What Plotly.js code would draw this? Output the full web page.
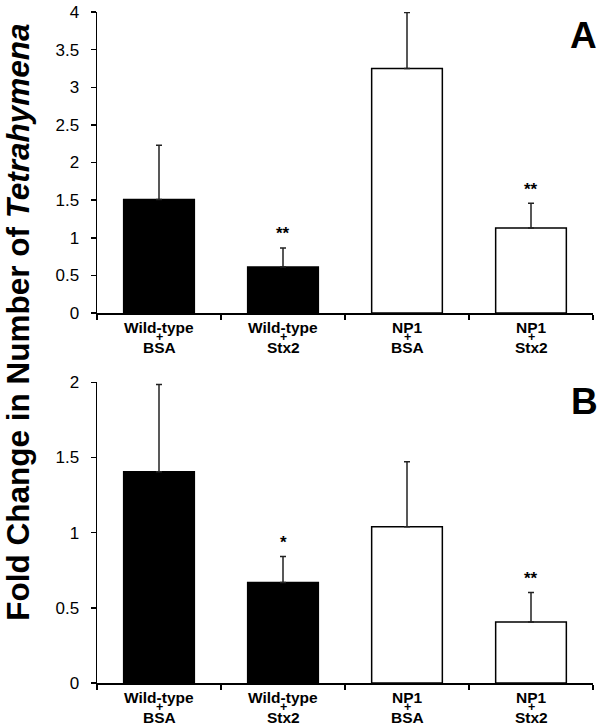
<!DOCTYPE html>
<html>
<head>
<meta charset="utf-8">
<script src="https://cdn.plot.ly/plotly-3.0.1.min.js"></script>
<style>html,body{margin:0;padding:0;background:#fff;}#chart{width:600px;height:726px;}</style>
</head>
<body>
<div id="chart"></div>
<script>
// ---- data ----
var strains = ['Wild-type', 'Wild-type', 'NP1', 'NP1'];
var treatments = ['BSA', 'Stx2', 'BSA', 'Stx2'];
var categories = ['Wild-type + BSA', 'Wild-type + Stx2', 'NP1 + BSA', 'NP1 + Stx2'];
var meanA = [1.51, 0.61, 3.25, 1.13];
var errA = [0.72, 0.255, 0.745, 0.33];
var sigA = ['', '**', '', '**'];
var meanB = [1.405, 0.668, 1.04, 0.405];
var errB = [0.58, 0.173, 0.432, 0.197];
var sigB = ['', '*', '', '**'];
var barFill = ['#000000', '#000000', '#ffffff', '#ffffff'];
var yTitle = 'Fold Change in Number of <i>Tetrahymena</i>';
var panelLabels = ['A', 'B'];

var FONT = 'Liberation Sans, Arial, sans-serif';

function barTrace(vals, errs, xa, ya) {
  return {
    type: 'bar', x: categories, y: vals, xaxis: xa, yaxis: ya,
    width: 0.57,
    marker: {color: barFill, line: {color: '#000', width: 1.5}},
    error_y: {type: 'data', symmetric: false, array: errs,
              arrayminus: errs.map(function(){return 0;}),
              color: '#222', thickness: 1.5, width: 3},
    showlegend: false, hoverinfo: 'skip'
  };
}

var data = [barTrace(meanA, errA, 'x', 'y'), barTrace(meanB, errB, 'x2', 'y2')];

var annotations = [];
function addLabels(xr, yr) {
  for (var i = 0; i < categories.length; i++) {
    annotations.push({x: categories[i], y: 0, xref: xr, yref: yr, text: '<b>' + strains[i] + '</b>',
      showarrow: false, yanchor: 'middle', yshift: -14, borderpad: 0,
      font: {family: FONT, size: 15.5, color: '#000'}});
    annotations.push({x: categories[i], y: 0, xref: xr, yref: yr, text: '<b>+</b>',
      showarrow: false, yanchor: 'middle', yshift: -23.5, borderpad: 0,
      font: {family: FONT, size: 12.5, color: '#000'}});
    annotations.push({x: categories[i], y: 0, xref: xr, yref: yr, text: '<b>' + treatments[i] + '</b>',
      showarrow: false, yanchor: 'middle', yshift: -34, borderpad: 0,
      font: {family: FONT, size: 15.5, color: '#000'}});
  }
}
function addStars(vals, errs, sig, xr, yr) {
  for (var i = 0; i < categories.length; i++) {
    if (!sig[i]) continue;
    annotations.push({x: categories[i], y: vals[i] + errs[i], xref: xr, yref: yr, text: '<b>' + sig[i] + '</b>',
      showarrow: false, yanchor: 'middle', yshift: 14, font: {family: FONT, size: 17, color: '#000'}});
  }
}
addLabels('x', 'y');
addLabels('x2', 'y2');
addStars(meanA, errA, sigA, 'x', 'y');
addStars(meanB, errB, sigB, 'x2', 'y2');

annotations.push({x: -0.159, y: 0.537, xref: 'paper', yref: 'paper', text: '<b>' + yTitle + '</b>',
  textangle: -90, showarrow: false, xanchor: 'center', yanchor: 'middle',
  font: {family: FONT, size: 31.5, color: '#000'}});
annotations.push({x: 0.98, y: 0.965, xref: 'paper', yref: 'paper', text: '<b>' + panelLabels[0] + '</b>',
  showarrow: false, xanchor: 'center', yanchor: 'middle', font: {family: FONT, size: 37, color: '#000'}});
annotations.push({x: 0.983, y: 0.4195, xref: 'paper', yref: 'paper', text: '<b>' + panelLabels[1] + '</b>',
  showarrow: false, xanchor: 'center', yanchor: 'middle', font: {family: FONT, size: 37, color: '#000'}});

function xAxis(anchor) {
  return {anchor: anchor, domain: [0, 1], type: 'category', range: [-0.5, 3.5],
    showline: true, linecolor: '#000', linewidth: 1.5, ticks: 'outside', tickson: 'boundaries',
    ticklen: 5, tickwidth: 1.5, tickcolor: '#000', showticklabels: false,
    showgrid: false, zeroline: false, fixedrange: true};
}
function yAxis(anchor, dom, rng) {
  return {anchor: anchor, domain: dom, range: rng, dtick: 0.5, tick0: 0,
    showline: true, linecolor: '#000', linewidth: 1.5, ticks: 'outside', ticklen: 5,
    tickwidth: 1.5, tickcolor: '#000', ticklabelstandoff: 8,
    tickfont: {family: FONT, size: 17, color: '#000'},
    showgrid: false, zeroline: false, fixedrange: true};
}

var layout = {
  width: 600, height: 726,
  margin: {l: 97, r: 7, t: 12, b: 43},
  paper_bgcolor: '#fff', plot_bgcolor: '#fff',
  xaxis: xAxis('y'), yaxis: yAxis('x', [0.5514, 1], [0, 4]),
  xaxis2: xAxis('y2'), yaxis2: yAxis('x2', [0, 0.4481], [0, 2]),
  annotations: annotations,
  showlegend: false
};

Plotly.newPlot('chart', data, layout, {displayModeBar: false, staticPlot: true});
</script>
</body>
</html>
